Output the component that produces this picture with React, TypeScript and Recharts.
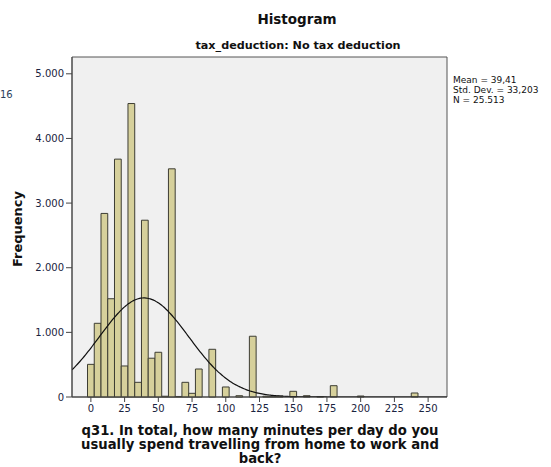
import React from "react";
import { ComposedChart, Line, XAxis, YAxis, ReferenceArea } from "recharts";

// bin centres (minutes), 5-minute bins
const binCentres = [
  0, 5, 10, 15, 20, 25, 30, 35, 40, 45, 50, 55, 60, 65, 70, 75, 80, 85, 90, 95,
  100, 105, 110, 115, 120, 125, 130, 135, 140, 145, 150, 155, 160, 165, 170, 175,
  180, 185, 190, 195, 200, 205, 210, 215, 220, 225, 230, 235, 240, 245,
];
const binCounts = [
  505, 1140, 2840, 1520, 3680, 480, 4540, 227, 2735, 600, 692, 12, 3530, 8, 227, 57, 433, 0, 738, 0,
  155, 0, 20, 0, 940, 0, 12, 10, 15, 0, 88, 0, 20, 0, 5, 0,
  175, 0, 0, 0, 15, 0, 0, 0, 0, 0, 0, 0, 62, 0,
];
const xTicks = [0, 25, 50, 75, 100, 125, 150, 175, 200, 225, 250];
const yTicks = [0, 1000, 2000, 3000, 4000, 5000];

// summary statistics shown beside the plot
const MEAN = 39.41;
const STD_DEV = 33.203;
const N = 25513;
const BIN_WIDTH = 5;

const X_MIN = -14;
const X_MAX = 264;
const Y_MAX = 5260;

const bins = binCentres
  .map((mid, i) => ({ mid, count: binCounts[i] }))
  .filter((b) => b.count > 0);

// fitted normal curve scaled to counts per bin
const curve: { mid: number; normal: number }[] = [];
for (let x = X_MIN; x <= X_MAX; x += 1) {
  const z = (x - MEAN) / STD_DEV;
  curve.push({
    mid: x,
    normal: (N * BIN_WIDTH * Math.exp(-0.5 * z * z)) / (STD_DEV * Math.sqrt(2 * Math.PI)),
  });
}

const font = "'DejaVu Sans', Verdana, sans-serif";
const fmtThousands = (v: number) => (v === 0 ? "0" : `${v / 1000}.000`);

export default function App() {
  return (
    <div style={{ position: "absolute", left: 0, top: 0, width: 551, height: 467, background: "#fff", fontFamily: font }}>
      <div style={{ position: "absolute", left: 0, width: 594, top: 11, textAlign: "center", fontWeight: "bold", fontSize: 13.5, color: "#111" }}>
        Histogram
      </div>
      <div style={{ position: "absolute", left: 0, width: 596, top: 39, textAlign: "center", fontWeight: "bold", fontSize: 11.2, color: "#111" }}>
        tax_deduction: No tax deduction
      </div>
      <div style={{ position: "absolute", left: 0, top: 89, fontSize: 10, color: "#2b3e5c" }}>16</div>
      <div style={{ position: "absolute", left: 453, top: 75, fontSize: 9, lineHeight: "10px", color: "#111" }}>
        Mean = 39,41
        <br />
        Std. Dev. = 33,203
        <br />
        N = 25.513
      </div>
      <div
        style={{
          position: "absolute",
          left: 17,
          top: 229,
          transform: "translate(-50%, -50%) rotate(-90deg)",
          fontWeight: "bold",
          fontSize: 13,
          color: "#111",
          whiteSpace: "nowrap",
        }}
      >
        Frequency
      </div>
      <div
        style={{
          position: "absolute",
          left: 40,
          width: 440,
          top: 424,
          textAlign: "center",
          fontWeight: "bold",
          fontSize: 13.2,
          lineHeight: "14px",
          color: "#111",
        }}
      >
        q31. In total, how many minutes per day do you
        <br />
        usually spend travelling from home to work and
        <br />
        back?
      </div>
      <div style={{ position: "absolute", left: 0, top: 0 }}>
        <ComposedChart
          width={551}
          height={467}
          data={curve}
          margin={{ top: 57, right: 104, bottom: 40, left: 0 }}
        >
          <XAxis
            dataKey="mid"
            type="number"
            domain={[X_MIN, X_MAX]}
            allowDataOverflow
            ticks={xTicks}
            height={30}
            tickSize={5}
            tickMargin={3}
            axisLine={{ stroke: "#444" }}
            tickLine={{ stroke: "#444" }}
            tick={{ fontSize: 10, fill: "#1a2340", fontFamily: font }}
          />
          <YAxis
            type="number"
            domain={[0, Y_MAX]}
            allowDataOverflow
            ticks={yTicks}
            width={72}
            tickSize={6}
            tickMargin={2}
            tickFormatter={fmtThousands}
            axisLine={{ stroke: "#444" }}
            tickLine={{ stroke: "#444" }}
            tick={{ fontSize: 10, fill: "#1a2340", fontFamily: font }}
          />
          <ReferenceArea
            x1={X_MIN}
            x2={X_MAX}
            y1={0}
            y2={Y_MAX}
            fill="#f0f0f0"
            fillOpacity={1}
            stroke="#555"
            strokeWidth={1}
          />
          {/* histogram bars: one rectangle per 5-minute bin */}
          {bins.map((b) => (
            <ReferenceArea
              key={b.mid}
              x1={b.mid - BIN_WIDTH / 2}
              x2={b.mid + BIN_WIDTH / 2}
              y1={0}
              y2={b.count}
              fill="#d6d09b"
              fillOpacity={1}
              stroke="#3d3d33"
              strokeWidth={1}
            />
          ))}
          <Line
            dataKey="normal"
            type="monotone"
            stroke="#111"
            strokeWidth={1.2}
            dot={false}
            activeDot={false}
            isAnimationActive={false}
          />
        </ComposedChart>
      </div>
    </div>
  );
}
